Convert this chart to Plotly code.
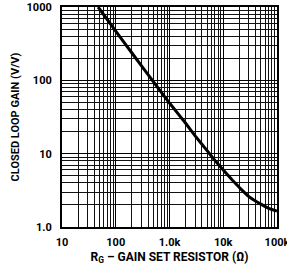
import plotly.graph_objects as go

# Data
rg_ohms = [47, 100, 200, 500, 1000, 2000, 3000, 5000, 7000, 10000,
           15000, 20000, 30000, 50000, 70000, 100000]
gain_vv = [1000, 470, 236, 96, 49, 26, 17.5, 11, 8.1, 6.0,
           4.3, 3.45, 2.6, 2.05, 1.8, 1.65]

x_tickvals = [10, 100, 1000, 10000, 100000]
x_ticktext = ["10", "100", "1.0k", "10k", "100k"]
y_tickvals = [1, 10, 100, 1000]
y_ticktext = ["1.0", "10", "100", "1000"]

FONT = "Roboto, Liberation Sans, Arial, sans-serif"

fig = go.Figure()
fig.add_trace(go.Scatter(
    x=rg_ohms, y=gain_vv, mode="lines",
    line=dict(color="black", width=3, shape="spline", smoothing=0.3),
    showlegend=False, hoverinfo="skip",
))

axis_common = dict(
    showline=True, linecolor="black", linewidth=2, mirror=True,
    showgrid=True, gridcolor="black", gridwidth=1.2,
    ticks="", zeroline=False, automargin=False,
    tickfont=dict(family=FONT, size=11, color="black", weight="bold"),
)

fig.update_xaxes(
    type="log", range=[1, 5],
    tickvals=x_tickvals, ticktext=x_ticktext,
    minor=dict(dtick="D1", showgrid=True, gridcolor="#111", gridwidth=1, ticks=""),
    title=dict(text="R<sub>G</sub> – GAIN SET RESISTOR (Ω)",
               font=dict(family=FONT, size=12, color="black", weight="bold"),
               standoff=4),
    ticklabelstandoff=4,
    ticklabeloverflow="allow",
    **axis_common,
)
fig.update_yaxes(
    type="log", range=[0, 3],
    tickvals=y_tickvals, ticktext=y_ticktext,
    minor=dict(dtick="D1", showgrid=True, gridcolor="#111", gridwidth=1, ticks=""),
    title=dict(text="CLOSED LOOP GAIN (V/V)",
               font=dict(family=FONT, size=11, color="black", weight="bold"),
               standoff=5),
    ticklabelstandoff=6,
    ticklabeloverflow="allow",
    **axis_common,
)

fig.update_layout(
    width=287, height=276,
    margin=dict(l=62, r=10, t=7, b=49),
    paper_bgcolor="white", plot_bgcolor="white",
)

fig.write_html("out.html", config={"displayModeBar": False},
               post_script="document.body.style.margin='0';")
